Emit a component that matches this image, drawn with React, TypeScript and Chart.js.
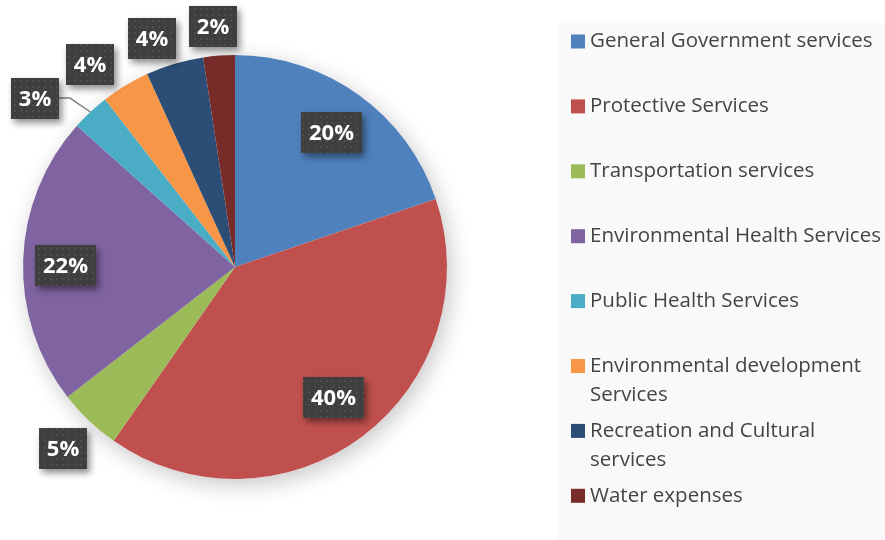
import { useEffect, useRef } from "react";
import Chart from "chart.js/auto";

const categories: (string | string[])[] = [
  "General Government services",
  "Protective Services",
  "Transportation services",
  "Environmental Health Services",
  "Public Health Services",
  ["Environmental development", "Services"],
  ["Recreation and Cultural", "services"],
  "Water expenses",
];

const shares = [19.8, 39.9, 4.8, 22.1, 2.9, 3.7, 4.4, 2.4];

const percentLabels = ["20%", "40%", "5%", "22%", "3%", "4%", "4%", "2%"];

const sliceColors = [
  "#4F81BD",
  "#C0504D",
  "#9BBB59",
  "#8064A2",
  "#4BACC6",
  "#F79646",
  "#2C4D75",
  "#772C2A",
];

// label placement: radius factor and angle nudge (degrees)
const placement = [
  { f: 0.78, da: 0 },
  { f: 0.77, da: 0 },
  { f: 1.18, da: 0 },
  { f: 0.8, da: -1.5 },
  { f: 1.235, da: -6.8 },
  { f: 1.175, da: -4.4 },
  { f: 1.146, da: -3.4 },
  { f: 1.139, da: -0.8 },
];

function makePattern(ctx: CanvasRenderingContext2D) {
  const c = document.createElement("canvas");
  c.width = 6;
  c.height = 6;
  const p = c.getContext("2d")!;
  p.fillStyle = "#3f3f3f";
  p.fillRect(0, 0, 6, 6);
  p.fillStyle = "#4d4d4d";
  p.fillRect(2, 2, 2, 2);
  return ctx.createPattern(c, "repeat")!;
}

const panelPlugin = {
  id: "panelLegend",
  beforeDraw(chart: any) {
    const ctx: CanvasRenderingContext2D = chart.ctx;
    ctx.save();
    ctx.fillStyle = "#ffffff";
    ctx.fillRect(0, 0, chart.width, chart.height);
    ctx.fillStyle = "#f9f9f9";
    ctx.fillRect(558, 23, chart.width - 558, chart.height - 23);
    const labels = chart.data.labels as (string | string[])[];
    const colors = chart.data.datasets[0].backgroundColor as string[];
    ctx.font = '20.5px "Open Sans"';
    ctx.textBaseline = "middle";
    ctx.textAlign = "left";
    labels.forEach((lab, i) => {
      const y = 41.5 + 64.9 * i;
      ctx.fillStyle = colors[i];
      ctx.fillRect(571, y - 7, 14, 14);
      ctx.fillStyle = "#444444";
      const lines = Array.isArray(lab) ? lab : [lab];
      lines.forEach((ln, k) => {
        ctx.fillText(ln, 590, y + 29 * k);
      });
    });
    ctx.restore();
  },
  beforeDatasetsDraw(chart: any) {
    const arc = chart.getDatasetMeta(0).data[0];
    if (!arc) return;
    const { x, y, outerRadius } = arc.getProps(["x", "y", "outerRadius"], true);
    const ctx: CanvasRenderingContext2D = chart.ctx;
    ctx.save();
    ctx.shadowColor = "rgba(0,0,0,0.22)";
    ctx.shadowBlur = 22;
    ctx.shadowOffsetX = 4;
    ctx.shadowOffsetY = 6;
    ctx.fillStyle = "#ffffff";
    ctx.beginPath();
    ctx.arc(x, y, outerRadius, 0, Math.PI * 2);
    ctx.fill();
    ctx.restore();
  },
  afterDatasetsDraw(chart: any) {
    const ctx: CanvasRenderingContext2D = chart.ctx;
    const meta = chart.getDatasetMeta(0);
    const pattern = makePattern(ctx);
    const texts = chart.options.plugins.panelLegend.texts as string[];
    meta.data.forEach((el: any, i: number) => {
      const { x, y, startAngle, endAngle, outerRadius } = el.getProps(
        ["x", "y", "startAngle", "endAngle", "outerRadius"],
        true
      );
      const mid = (startAngle + endAngle) / 2;
      const pl = placement[i];
      const ang = mid + (pl.da * Math.PI) / 180;
      const cx = x + Math.cos(ang) * outerRadius * pl.f;
      const cy = y + Math.sin(ang) * outerRadius * pl.f;
      ctx.save();
      ctx.font = 'bold 22px "Open Sans"';
      const tw = ctx.measureText(texts[i]).width;
      const bw = Math.round(tw + 16);
      const bh = 41;
      const bx = Math.round(cx - bw / 2);
      const by = Math.round(cy - bh / 2);
      if (pl.f > 1 && Math.abs(pl.da) > 5) {
        const ex = x + Math.cos(mid) * outerRadius;
        const ey = y + Math.sin(mid) * outerRadius;
        ctx.strokeStyle = "#808080";
        ctx.lineWidth = 1.5;
        ctx.beginPath();
        ctx.moveTo(bx + bw, cy);
        ctx.lineTo(bx + bw + 11, cy);
        ctx.lineTo(ex, ey);
        ctx.stroke();
      }
      ctx.shadowColor = "rgba(0,0,0,0.45)";
      ctx.shadowBlur = 7;
      ctx.shadowOffsetX = 3;
      ctx.shadowOffsetY = 4;
      ctx.fillStyle = pattern;
      ctx.fillRect(bx, by, bw, bh);
      ctx.shadowColor = "transparent";
      ctx.fillStyle = "#ffffff";
      ctx.textAlign = "center";
      ctx.textBaseline = "middle";
      ctx.fillText(texts[i], bx + bw / 2, by + bh / 2 + 1);
      ctx.restore();
    });
  },
};

export default function App() {
  const ref = useRef<HTMLCanvasElement | null>(null);
  useEffect(() => {
    if (!ref.current) return;
    const chart = new Chart(ref.current, {
      type: "pie",
      data: {
        labels: categories as any,
        datasets: [
          {
            data: shares,
            backgroundColor: sliceColors,
            borderWidth: 0,
          },
        ],
      },
      options: {
        responsive: false,
        animation: false,
        devicePixelRatio: 1,
        layout: { padding: { left: 23, right: 438, top: 55, bottom: 61 } },
        plugins: {
          legend: { display: false },
          tooltip: { enabled: false },
          panelLegend: { texts: percentLabels },
        } as any,
      },
      plugins: [panelPlugin],
    });
    return () => chart.destroy();
  }, []);
  return (
    <div style={{ position: "absolute", left: 0, top: 0, width: 885, height: 540 }}>
      <canvas ref={ref} width={885} height={540} style={{ width: 885, height: 540 }} />
    </div>
  );
}
